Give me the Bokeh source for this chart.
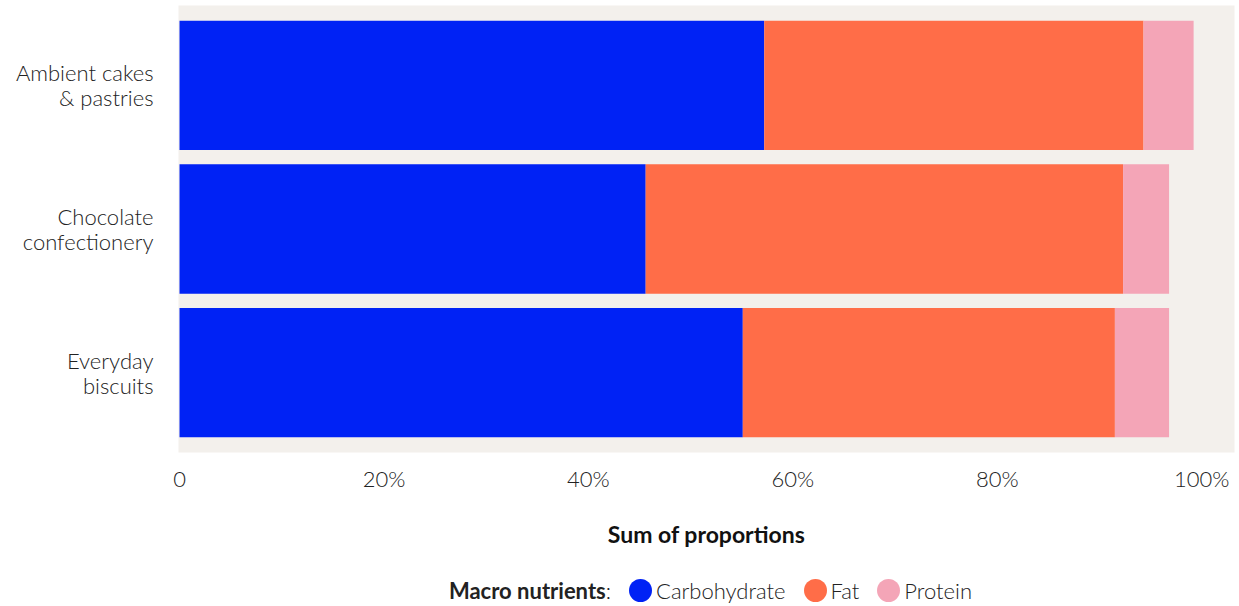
from bokeh.plotting import figure
from bokeh.models import FactorRange, Range1d, FixedTicker, Div
from bokeh.layouts import column
from bokeh.embed import file_html
from bokeh.resources import INLINE

categories = ["Ambient cakes\n& pastries", "Chocolate\nconfectionery", "Everyday\nbiscuits"]
carbohydrate = [57.2, 45.6, 55.1]
fat = [37.1, 46.7, 36.4]
protein = [4.9, 4.5, 5.3]
series = ["Carbohydrate", "Fat", "Protein"]
colors = ["#0022F5", "#FF6D48", "#F4A5B7"]
tick_values = [0, 20, 40, 60, 80, 100]
tick_labels = ["0", "20%", "40%", "60%", "80%", "100%"]

FONT = "Lato"
LIGHT = "Lato Light"

p = figure(width=1239, height=560, output_backend="svg", toolbar_location=None,
           y_range=FactorRange(factors=list(reversed(categories)), range_padding=0.037,
                               range_padding_units="percent"),
           x_range=Range1d(-0.1, 103.2),
           min_border_left=178, min_border_right=5, min_border_top=5, min_border_bottom=108)

src = dict(cat=categories, Carbohydrate=carbohydrate, Fat=fat, Protein=protein)
p.hbar_stack(series, y="cat", height=0.9, color=colors, line_color=None, source=src)

p.background_fill_color = "#F3F0EC"
p.border_fill_color = "white"
p.outline_line_color = None
p.xgrid.visible = False
p.ygrid.visible = False

p.xaxis.ticker = FixedTicker(ticks=tick_values)
p.xaxis.major_label_overrides = {v: l for v, l in zip(tick_values, tick_labels)}
p.xaxis.axis_line_color = None
p.xaxis.major_tick_line_color = None
p.xaxis.minor_tick_line_color = None
p.xaxis.major_label_text_font = LIGHT
p.xaxis.major_label_text_font_size = "22px"
p.xaxis.major_label_text_color = "#222222"
p.xaxis.major_label_standoff = 6
p.xaxis.axis_label = "Sum of proportions"
p.xaxis.axis_label_text_font = FONT
p.xaxis.axis_label_text_font_size = "23px"
p.xaxis.axis_label_text_font_style = "bold"
p.xaxis.axis_label_text_color = "#111111"
p.xaxis.axis_label_standoff = 25

p.yaxis.axis_line_color = None
p.yaxis.major_tick_line_color = None
p.yaxis.minor_tick_line_color = None
p.yaxis.major_label_text_font = LIGHT
p.yaxis.major_label_text_font_size = "22px"
p.yaxis.major_label_text_color = "#222222"
p.yaxis.major_label_text_line_height = 0.92
p.yaxis.major_label_standoff = 19
p.yaxis.major_label_text_align = "right"

dot = '<span style="display:inline-block;width:23px;height:23px;border-radius:50%;background:{c};vertical-align:middle;margin:0 4px 0 18px;"></span>'
items = "".join(dot.format(c=c) + f'<span style="vertical-align:middle;">{s}</span>' for c, s in zip(colors, series))
legend = Div(text=f'<div style="width:1239px;text-align:center;font-family:\'{LIGHT}\',{FONT};font-size:22px;color:#222;padding-top:12px;position:relative;left:91px;">'
                  f'<span style="font-family:{FONT};font-weight:bold;vertical-align:middle;">Macro nutrients</span>'
                  f'<span style="vertical-align:middle;">:</span>{items}</div>',
             width=1239, height=46, margin=(0, 0, 0, 0))

layout = column(p, legend, spacing=0)
open("out.html", "w").write(file_html(layout, INLINE))
